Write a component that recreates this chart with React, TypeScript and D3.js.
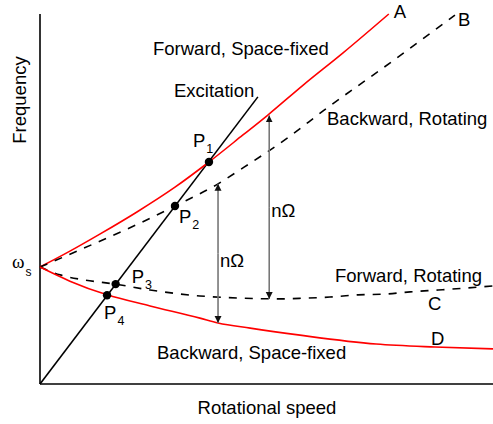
import React from 'react';
import * as d3 from 'd3';

// Campbell-style diagram: natural frequencies of a rotating structure vs. rotational speed
const WIDTH = 493;
const HEIGHT = 424;

const SPEED_DOMAIN = [0, 100];
const FREQ_DOMAIN = [0, 100];

// Stationary natural frequency (all four branches start here)
const OMEGA_S = 31.6;

// A: forward whirl, space-fixed frame
const forwardFixedSpeed = [0, 6.6, 13.2, 21.4, 29.8, 37.3, 44.8, 50.3, 58.1, 66.9, 77.0];
const forwardFixedFreq = [31.6, 35.9, 40.5, 46.5, 53.2, 60.0, 67.3, 72.7, 80.8, 89.5, 100];

// B: backward whirl, rotating frame
const backwardRotSpeed = [0, 13.2, 22.1, 29.8, 39.3, 44.8, 55.2, 62.5, 77.3, 91.6];
const backwardRotFreq = [31.6, 38.6, 43.5, 48.1, 54.1, 58.4, 67.0, 73.8, 86.8, 99.7];

// C: forward whirl, rotating frame
const forwardRotSpeed = [0, 4.4, 9.9, 16.6, 24.3, 35.3, 44.8, 53.0, 58.5, 64.0, 70.2, 76.2, 81.7, 87.9, 93.8, 100];
const forwardRotFreq = [31.6, 29.5, 28.1, 27.0, 25.4, 23.8, 23.2, 23.0, 23.2, 23.5, 24.1, 24.3, 24.9, 25.4, 25.9, 26.5];

// D: backward whirl, space-fixed frame
const backwardFixedSpeed = [0, 6.6, 14.8, 24.3, 35.3, 39.3, 46.4, 57.4, 74.2, 87.2, 100];
const backwardFixedFreq = [31.6, 27.8, 24.1, 21.1, 17.8, 16.5, 15.1, 13.2, 10.8, 10.0, 9.5];

// Excitation line (engine order)
const excitationSpeed = [0, 48.1];
const excitationFreq = [0, 77.6];

// Resonance crossings P1..P4
const crossingNames = ['1', '2', '3', '4'];
const crossingSpeed = [37.3, 29.8, 16.7, 14.8];
const crossingFreq = [60.0, 48.1, 27.0, 24.0];

// nΩ frequency-shift arrows between frames
const shiftSpeed = [50.6, 39.3];
const shiftFrom = [72.6, 54.1];
const shiftTo = [23.0, 16.5];

const FONT = '"Liberation Sans", Arial, sans-serif';
const RED = '#ff0000';

const zip = (xs: number[], ys: number[]) => xs.map((x, i) => [x, ys[i]] as [number, number]);

export default function App() {
  const x = d3.scaleLinear().domain(SPEED_DOMAIN).range([40, 493]);
  const y = d3.scaleLinear().domain(FREQ_DOMAIN).range([384, 14]);

  const line = d3
    .line<[number, number]>()
    .x((d) => x(d[0]))
    .y((d) => y(d[1]))
    .curve(d3.curveMonotoneX);

  const curves = [
    { pts: zip(forwardFixedSpeed, forwardFixedFreq), color: RED, dash: undefined },
    { pts: zip(backwardRotSpeed, backwardRotFreq), color: '#000', dash: '8,8' },
    { pts: zip(forwardRotSpeed, forwardRotFreq), color: '#000', dash: '8,8' },
    { pts: zip(backwardFixedSpeed, backwardFixedFreq), color: RED, dash: undefined },
  ];

  const endA = curves[0].pts[curves[0].pts.length - 1];
  const endB = curves[1].pts[curves[1].pts.length - 1];

  // Offsets of the P labels from their crossing point (px)
  const pOffsets: [number, number][] = [
    [-16, -15],
    [4, 17],
    [16, -1],
    [-3, 24],
  ];

  const textStyle = { fontFamily: FONT, fontSize: 18.5, fill: '#000' } as const;

  return (
    <svg
      width={WIDTH}
      height={HEIGHT}
      style={{ position: 'absolute', left: 0, top: 0, background: '#fff' }}
    >
      <defs>
        <marker
          id="head"
          viewBox="0 0 10 10"
          refX={10}
          refY={5}
          markerWidth={7}
          markerHeight={9}
          markerUnits="userSpaceOnUse"
          orient="auto"
        >
          <path d="M0,0 L10,5 L0,10 Z" fill="#111" />
        </marker>
      </defs>

      {/* axes */}
      <line x1={x(0)} x2={x(0)} y1={y(FREQ_DOMAIN[1])} y2={y(0)} stroke="#000" strokeWidth={1.6} />
      <line x1={x(0)} x2={x(SPEED_DOMAIN[1])} y1={y(0)} y2={y(0)} stroke="#000" strokeWidth={1.6} />

      {/* excitation line */}
      <path
        d={d3.line()(zip(excitationSpeed, excitationFreq).map((d) => [x(d[0]), y(d[1])]))!}
        stroke="#000"
        strokeWidth={1.6}
        fill="none"
      />

      {/* frequency branches */}
      {curves.map((c, i) => (
        <path
          key={i}
          d={line(c.pts)!}
          fill="none"
          stroke={c.color}
          strokeWidth={1.6}
          strokeDasharray={c.dash}
        />
      ))}

      {/* nΩ arrows */}
      {shiftSpeed.map((s, i) => {
        const mid = (y(shiftFrom[i]) + y(shiftTo[i])) / 2;
        return (
          <g key={i}>
            <line x1={x(s)} x2={x(s)} y1={mid} y2={y(shiftFrom[i])} stroke="#777" strokeWidth={1.6} markerEnd="url(#head)" />
            <line x1={x(s)} x2={x(s)} y1={mid} y2={y(shiftTo[i])} stroke="#777" strokeWidth={1.6} markerEnd="url(#head)" />
          </g>
        );
      })}
      <text x={x(shiftSpeed[0]) + 2} y={217} style={textStyle}>nΩ</text>
      <text x={x(shiftSpeed[1]) + 2} y={267} style={textStyle}>nΩ</text>

      {/* crossing points */}
      {crossingSpeed.map((s, i) => (
        <g key={i}>
          <circle cx={x(s)} cy={y(crossingFreq[i])} r={4.2} fill="#000" />
          <text x={x(s) + pOffsets[i][0]} y={y(crossingFreq[i]) + pOffsets[i][1]} style={textStyle}>
            P
            <tspan dx={1} dy={6} fontSize={12.5}>
              {crossingNames[i]}
            </tspan>
          </text>
        </g>
      ))}

      {/* curve tags */}
      <text x={x(endA[0]) + 5} y={y(endA[1]) + 4} style={textStyle}>A</text>
      <text x={x(endB[0]) + 3} y={y(endB[1]) + 11} style={textStyle}>B</text>
      <text x={428} y={310} style={textStyle}>C</text>
      <text x={431} y={345} style={textStyle}>D</text>

      {/* region labels */}
      <text x={153} y={55} style={textStyle}>Forward, Space-fixed</text>
      <text x={174} y={97} style={textStyle}>Excitation</text>
      <text x={327} y={125} style={textStyle}>Backward, Rotating</text>
      <text x={335} y={282} style={textStyle}>Forward, Rotating</text>
      <text x={157} y={359} style={textStyle}>Backward, Space-fixed</text>

      {/* ω_s tick label */}
      <text x={12} y={y(OMEGA_S) + 1} style={{ fontFamily: '"Liberation Serif", serif', fontSize: 19, fill: '#000' }}>
        ω
        <tspan dx={1} dy={8} fontFamily={FONT} fontSize={12}>s</tspan>
      </text>

      {/* axis titles */}
      <text x={267} y={414} textAnchor="middle" style={textStyle}>Rotational speed</text>
      <text transform="translate(26,100) rotate(-90)" textAnchor="middle" style={textStyle}>Frequency</text>
    </svg>
  );
}
